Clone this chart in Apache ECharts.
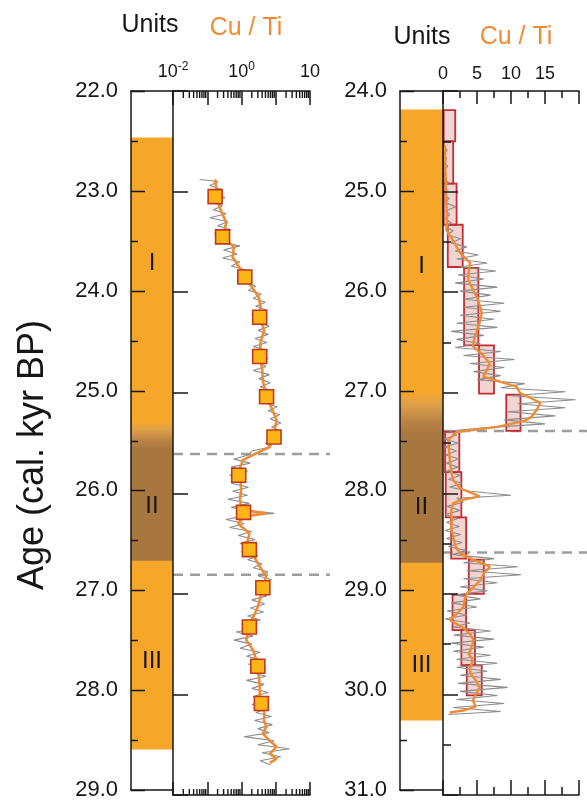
<!DOCTYPE html>
<html><head><meta charset="utf-8">
<script src="https://cdn.jsdelivr.net/npm/echarts@6/dist/echarts.min.js"></script>
<style>html,body{margin:0;padding:0;background:#fff}#c{width:587px;height:801px}</style>
</head><body><div id="c"></div>
<script>
// ---------------- DATA ----------------
// Left panel (age 22-29 cal. kyr BP, Cu/Ti on log scale)
const ageRangeLeft = [22, 29];
const ageMajorTicksLeft = [22, 23, 24, 25, 26, 27, 28, 29];
const ageMinorTicksLeft = [22.5, 23.5, 24.5, 25.5, 26.5, 27.5, 28.5];
const unitBandsLeft = [[22.47, 25.32, 'I'], [25.32, 25.58, 'fade'], [25.58, 26.71, 'II'], [26.71, 28.59, 'III']];
const unitLabelsLeft = [['I', 23.73], ['II', 26.16], ['III', 27.71]];
const dashAgesLeft = [25.61, 26.81];
const logTickLabels = [[0.01, '-2'], [1, '0'], [100, '']];
const logMinorTicks = [0.02,0.03,0.04,0.05,0.06,0.07,0.08,0.09,0.2,0.3,0.4,0.5,0.6,0.7,0.8,0.9,2,3,4,5,6,7,8,9,20,30,40,50,60,70,80,90];
const grayLeft = [[22.88,0.06],[22.90,0.21],[22.94,0.12],[22.98,0.26],[23.02,0.14],[23.06,0.33],[23.10,0.11],[23.14,0.28],[23.18,0.15],[23.22,0.36],[23.26,0.12],[23.30,0.40],[23.34,0.2],[23.38,0.5],[23.42,0.16],[23.46,0.42],[23.50,0.2],[23.54,0.9],[23.58,0.3],[23.62,0.75],[23.66,0.28],[23.70,0.9],[23.74,0.5],[23.78,1.4],[23.82,0.8],[23.86,1.9],[23.90,1.1],[23.94,2.6],[23.98,1.6],[24.02,3.8],[24.06,2.2],[24.10,5.0],[24.14,2.6],[24.18,5.6],[24.22,2.0],[24.26,5.0],[24.30,2.7],[24.34,6.5],[24.38,3.0],[24.42,6.0],[24.46,2.5],[24.50,5.5],[24.54,2.2],[24.58,5.8],[24.62,2.4],[24.66,6.0],[24.70,3.0],[24.74,5.2],[24.78,2.2],[24.82,6.5],[24.86,3.2],[24.90,7.0],[24.94,3.5],[24.98,8.0],[25.02,4.0],[25.06,9.0],[25.10,4.5],[25.14,11],[25.18,6.0],[25.22,13],[25.26,7.0],[25.30,14],[25.34,7.5],[25.38,13],[25.42,6.5],[25.46,12],[25.50,5.0],[25.54,7],[25.58,2.0],[25.62,1.6],[25.66,0.6],[25.70,1.8],[25.74,0.5],[25.78,1.5],[25.82,0.45],[25.86,1.4],[25.90,0.5],[25.94,1.6],[25.98,0.55],[26.02,1.5],[26.06,0.4],[26.10,1.7],[26.14,0.5],[26.18,2.5],[26.20,9],[26.22,1.5],[26.26,0.35],[26.30,1.2],[26.34,0.45],[26.38,2.0],[26.42,0.8],[26.46,2.5],[26.50,0.9],[26.54,2.4],[26.58,1.0],[26.62,3.0],[26.66,1.5],[26.70,4.0],[26.74,2.2],[26.78,6.0],[26.82,3.0],[26.86,7.5],[26.90,2.8],[26.94,7.0],[26.98,2.5],[27.02,5.5],[27.06,2.0],[27.10,4.8],[27.14,1.8],[27.18,4.4],[27.22,1.5],[27.26,3.6],[27.30,1.0],[27.34,2.6],[27.38,0.7],[27.42,2.2],[27.46,0.6],[27.50,2.0],[27.54,0.9],[27.58,3.5],[27.62,1.4],[27.66,4.4],[27.70,1.6],[27.74,5.0],[27.78,1.8],[27.82,5.2],[27.86,1.4],[27.90,4.6],[27.94,2.0],[27.98,6.0],[28.02,2.2],[28.06,5.4],[28.10,2.0],[28.14,6.4],[28.18,2.6],[28.22,7.5],[28.26,2.4],[28.30,8.0],[28.34,3.0],[28.38,6.5],[28.42,1.2],[28.46,9.0],[28.50,3.0],[28.54,25],[28.58,4.0],[28.62,14],[28.66,3.5],[28.70,7.0]];
const smoothLeft = [[22.88,0.17],[23.0,0.19],[23.15,0.225],[23.31,0.36],[23.45,0.28],[23.55,0.6],[23.65,0.55],[23.75,0.85],[23.85,1.25],[23.95,2.0],[24.05,3.2],[24.15,3.6],[24.25,3.4],[24.38,4.6],[24.50,3.6],[24.64,3.4],[24.76,4.0],[24.88,4.2],[25.04,5.4],[25.15,7.5],[25.27,10.5],[25.36,9.5],[25.44,8.9],[25.54,6.7],[25.61,2.4],[25.67,1.1],[25.75,0.9],[25.82,0.83],[25.90,0.95],[25.97,0.98],[26.06,0.9],[26.14,0.98],[26.17,1.2],[26.20,5.3],[26.23,1.2],[26.30,0.8],[26.40,1.7],[26.48,1.5],[26.56,1.7],[26.65,2.5],[26.73,3.4],[26.82,5.3],[26.94,4.2],[27.03,3.6],[27.13,3.0],[27.23,2.2],[27.33,1.7],[27.46,1.37],[27.56,2.2],[27.64,2.6],[27.72,3.0],[27.82,3.2],[27.93,3.4],[28.02,3.4],[28.09,3.8],[28.19,4.7],[28.26,4.5],[28.32,5.3],[28.39,4.2],[28.46,6.7],[28.52,10.5],[28.59,6.7],[28.64,10.5],[28.68,6.7]];
const markerAgesLeft = [23.05, 23.45, 23.85, 24.25, 24.64, 25.04, 25.44, 25.82, 26.19, 26.56, 26.94, 27.33, 27.72, 28.09];
const markerValuesLeft = [0.17, 0.28, 1.25, 3.4, 3.4, 5.4, 8.9, 0.83, 1.15, 1.7, 4.2, 1.7, 3.0, 3.8];

// Right panel (age 24-31 cal. kyr BP, Cu/Ti linear)
const ageRangeRight = [24, 31];
const ageMajorTicksRight = [24, 25, 26, 27, 28, 29, 30, 31];
const ageMinorTicksRight = [24.5, 25.5, 26.5, 27.5, 28.5, 29.5, 30.5];
const unitBandsRight = [[24.19, 27.02, 'I'], [27.02, 27.44, 'fade'], [27.44, 28.73, 'II'], [28.73, 30.30, 'III']];
const unitLabelsRight = [['I', 25.76], ['II', 28.17], ['III', 29.75]];
const dashAgesRight = [27.38, 28.59];
const linearTicks = [0, 5, 10, 15, 20];
const linearTickLabels = ['0', '5', '10', '15', ''];
// boxes: [age top, age bottom, low value, high value]
const boxesRight = [[24.19,24.50,0.1,1.8],[24.50,24.92,0.1,1.5],[24.92,25.33,0.1,2.0],[25.33,25.75,0.7,2.9],[25.76,26.53,3.1,5.2],[26.53,27.01,5.3,7.5],[27.02,27.38,9.3,11.4],[27.39,27.79,0.3,2.4],[27.79,28.24,0.4,2.7],[28.24,28.65,1.2,3.4],[28.66,29.00,3.8,6.0],[29.01,29.36,1.4,3.4],[29.36,29.71,2.7,4.7],[29.71,30.01,3.5,5.7]];
const grayRight = [[24.55,0.2],[24.59,0.6],[24.63,0.1],[24.67,0.5],[24.71,0.2],[24.75,0.7],[24.79,0.1],[24.83,0.5],[24.87,0.2],[24.91,0.8],[24.95,0.3],[24.99,0.6],[25.03,0.2],[25.07,0.9],[25.11,0.3],[25.15,1.9],[25.19,0.4],[25.23,1.0],[25.27,0.3],[25.31,1.2],[25.35,0.4],[25.39,1.5],[25.43,0.6],[25.47,2.6],[25.51,1.2],[25.55,3.5],[25.59,1.8],[25.63,5.2],[25.67,2.0],[25.71,6.5],[25.75,2.5],[25.79,7.8],[25.83,2.2],[25.87,6.0],[25.91,1.8],[25.95,8.0],[25.99,2.5],[26.03,7.0],[26.07,3.0],[26.11,9.0],[26.15,3.0],[26.19,8.5],[26.23,2.5],[26.27,7.5],[26.31,2.0],[26.35,8.0],[26.39,1.2],[26.43,6.0],[26.47,2.0],[26.51,5.5],[26.55,1.8],[26.59,8.5],[26.63,3.0],[26.67,10.5],[26.71,4.0],[26.75,9.0],[26.79,4.5],[26.83,8.5],[26.87,5.0],[26.91,12.0],[26.95,8.5],[26.99,18.0],[27.03,10.0],[27.07,19.5],[27.11,11.0],[27.15,18.0],[27.19,9.5],[27.23,16.5],[27.27,9.0],[27.31,15.0],[27.35,6.0],[27.38,1.0],[27.42,2.0],[27.46,0.2],[27.50,2.2],[27.54,0.3],[27.58,2.0],[27.62,0.4],[27.66,2.4],[27.70,0.5],[27.74,2.2],[27.78,0.4],[27.82,2.6],[27.86,0.8],[27.90,2.8],[27.94,1.0],[27.98,4.0],[28.02,10.0],[28.05,2.0],[28.09,3.0],[28.13,0.6],[28.17,2.5],[28.21,0.4],[28.25,2.2],[28.29,0.5],[28.33,2.4],[28.37,0.3],[28.41,2.6],[28.45,0.5],[28.49,2.8],[28.53,0.8],[28.57,3.4],[28.61,1.4],[28.65,7.5],[28.69,3.0],[28.73,11.0],[28.77,3.5],[28.81,11.5],[28.85,3.0],[28.89,8.0],[28.93,2.5],[28.97,6.5],[29.01,1.8],[29.05,5.5],[29.09,1.2],[29.13,5.0],[29.17,0.6],[29.21,3.5],[29.25,0.3],[29.29,4.0],[29.33,1.5],[29.37,7.0],[29.41,1.6],[29.45,7.5],[29.49,1.2],[29.53,6.0],[29.57,1.5],[29.61,7.0],[29.65,2.0],[29.69,8.0],[29.73,2.0],[29.77,6.5],[29.81,2.5],[29.85,8.5],[29.89,2.2],[29.93,9.5],[29.97,2.5],[30.01,8.0],[30.05,2.0],[30.09,9.0],[30.13,1.5],[30.17,8.5],[30.20,0.8]];
const smoothRight = [[24.54,0.3],[24.7,0.3],[24.9,0.4],[25.1,0.5],[25.3,0.6],[25.38,0.5],[25.5,1.6],[25.61,2.5],[25.71,4.0],[25.8,3.8],[25.88,3.7],[25.96,4.3],[26.05,5.0],[26.13,5.4],[26.21,5.7],[26.3,5.4],[26.38,5.0],[26.46,4.6],[26.54,4.4],[26.62,5.8],[26.71,6.9],[26.78,6.4],[26.84,5.9],[26.94,10.8],[27.0,11.3],[27.05,12.8],[27.1,14.3],[27.17,13.8],[27.24,13.0],[27.28,12.0],[27.34,8.0],[27.39,2.0],[27.47,0.8],[27.57,0.9],[27.67,1.0],[27.77,1.2],[27.87,1.5],[27.95,2.5],[28.03,5.4],[28.07,2.5],[28.10,1.5],[28.18,1.2],[28.27,1.3],[28.35,1.2],[28.43,1.5],[28.52,1.8],[28.6,2.5],[28.67,4.8],[28.73,6.9],[28.8,6.0],[28.87,5.4],[28.94,4.4],[29.0,3.5],[29.06,3.2],[29.13,3.0],[29.2,2.0],[29.26,1.0],[29.33,2.8],[29.4,4.0],[29.46,4.5],[29.53,4.2],[29.6,3.8],[29.66,4.4],[29.73,4.0],[29.79,4.0],[29.86,4.8],[29.93,5.4],[30.0,4.8],[30.06,4.4],[30.12,4.8],[30.16,3.0],[30.18,1.0]];

const headerUnits = 'Units';
const headerVar = 'Cu / Ti';
const yTitle = 'Age (cal. kyr BP)';

// ---------------- STYLE ----------------
const FONT = '"Liberation Sans", Arial, Helvetica, sans-serif';
const INK = '#161616';
const UNIT_ORANGE = '#F6A72A';
const UNIT_BROWN = '#A8773F';
const LINE_ORANGE = '#EE8C35';
const AXIS_LINE = { lineStyle: { color: INK, width: 1.5 } };
const AXIS_LAYER = 1;
const TICK_LAYER = 2;

function bandFill(k) {
  if (k === 'fade') return new echarts.graphic.LinearGradient(0, 0, 0, 1, [
    { offset: 0, color: UNIT_ORANGE }, { offset: 0.3, color: '#DDA04A' }, { offset: 0.7, color: '#B98246' }, { offset: 1, color: UNIT_BROWN }]);
  return k === 'II' ? UNIT_BROWN : UNIT_ORANGE;
}
function unitsRenderer(bands, labels) {
  return function (params, api) {
    if (params.dataIndex !== 0) return null;
    const children = [];
    bands.forEach(b => {
      const p0 = api.coord([0, b[0]]), p1 = api.coord([1, b[1]]);
      children.push({ type: 'rect', z2: 1, shape: { x: p0[0], y: p0[1] - 0.5, width: p1[0] - p0[0], height: p1[1] - p0[1] + 1 }, style: { fill: bandFill(b[2]) } });
    });
    labels.forEach(l => {
      const p = api.coord([0.5, l[1]]);
      children.push({ type: 'text', z2: 30, x: p[0], y: p[1], style: { text: l[0], font: '24px ' + FONT, fill: INK, align: 'center', verticalAlign: 'middle' } });
    });
    return { type: 'group', children: children };
  };
}
function ticksRenderer(majors, minors) {
  return function (params, api) {
    if (params.dataIndex !== 0) return null;
    const cs = params.coordSys;
    const children = [];
    majors.forEach(a => {
      const y = Math.round(api.coord([0, a])[1]) + 0.5;
      children.push({ type: 'rect', shape: { x: cs.x, y: y - 0.75, width: 14, height: 1.5 }, style: { fill: INK } });
    });
    minors.forEach(a => {
      const y = Math.round(api.coord([0, a])[1]) + 0.5;
      children.push({ type: 'rect', shape: { x: cs.x, y: y - 0.75, width: 7, height: 1.5 }, style: { fill: INK } });
    });
    return { type: 'group', children: children };
  };
}
function dashRenderer(extra) {
  return function (params, api) {
    const cs = params.coordSys;
    const y = api.coord([api.value(0), api.value(1)])[1];
    return { type: 'line', shape: { x1: cs.x, y1: y, x2: cs.x + cs.width + extra, y2: y }, style: { stroke: '#9d9d9d', lineWidth: 2.5, lineDash: [10, 7] } };
  };
}

function unitsX(grid, pos) {
  return { gridIndex: grid, type: 'value', min: 0, max: 1, position: pos, zlevel: AXIS_LAYER, axisLine: { show: true, ...AXIS_LINE }, axisTick: { show: false }, axisLabel: { show: false }, splitLine: { show: false } };
}
function unitsY(grid, range) {
  return { gridIndex: grid, type: 'value', inverse: true, min: range[0], max: range[1], interval: 1, zlevel: AXIS_LAYER,
    axisLine: { show: true, ...AXIS_LINE }, axisTick: { show: false }, minorTick: { show: false },
    axisLabel: { formatter: v => v.toFixed(1), fontSize: 22, color: INK, margin: 13, fontFamily: FONT },
    splitLine: { show: false }, minorSplitLine: { show: false } };
}
function dataY(grid, range, minor) {
  return { gridIndex: grid, type: 'value', inverse: true, min: range[0], max: range[1], interval: 1, zlevel: AXIS_LAYER,
    axisLine: { show: true, ...AXIS_LINE }, axisTick: { show: true, inside: true, length: 15, ...AXIS_LINE },
    minorTick: { show: minor, splitNumber: 2, length: 8, ...AXIS_LINE },
    axisLabel: { show: false }, splitLine: { show: false }, minorSplitLine: { show: false } };
}
function logLabel(v) {
  for (const t of logTickLabels) {
    if (Math.abs(Math.log10(v) - Math.log10(t[0])) < 1e-6) return t[1] === '' ? '{b|10}' : '{b|10}{s|' + t[1] + '}';
  }
  return '';
}
function logX(grid, pos, showLabel) {
  return { gridIndex: grid, type: 'log', logBase: 10, min: 0.01, max: 100, position: pos, zlevel: AXIS_LAYER,
    axisLine: { show: true, ...AXIS_LINE }, axisTick: { show: true, inside: true, length: pos === 'top' ? 14 : 13, ...AXIS_LINE },
    axisLabel: { show: showLabel, formatter: logLabel, margin: 8,
      rich: { b: { fontSize: 18, fontFamily: FONT, color: INK, lineHeight: 22 }, s: { fontSize: 12, fontFamily: FONT, color: INK, verticalAlign: 'top', lineHeight: 12 } } },
    splitLine: { show: false }, minorTick: { show: false } };
}
function linX(grid, pos, showLabel) {
  return { gridIndex: grid, type: 'value', min: linearTicks[0], max: linearTicks[linearTicks.length - 1], interval: linearTicks[1] - linearTicks[0], position: pos, zlevel: AXIS_LAYER,
    axisLine: { show: true, ...AXIS_LINE }, axisTick: { show: true, inside: true, length: pos === 'top' ? 13 : 15, ...AXIS_LINE },
    minorTick: { show: true, splitNumber: 2, length: pos === 'top' ? 7 : 8, ...AXIS_LINE },
    axisLabel: { show: showLabel, fontSize: 18, color: INK, fontFamily: FONT, margin: 8,
      formatter: v => { const i = linearTicks.indexOf(v); return i >= 0 ? linearTickLabels[i] : ''; } },
    splitLine: { show: false }, minorSplitLine: { show: false } };
}

const chart = echarts.init(document.getElementById('c'), null, { renderer: 'canvas' });
chart.setOption({
  animation: false,
  backgroundColor: '#fff',
  grid: [
    { left: 131, top: 91, width: 42, height: 704 },
    { left: 173, top: 91, width: 137, height: 704 },
    { left: 400, top: 91, width: 43, height: 704 },
    { left: 443, top: 91, width: 136, height: 704 }
  ],
  xAxis: [
    unitsX(0, 'top'), unitsX(0, 'bottom'),
    logX(1, 'top', true), logX(1, 'bottom', false),
    unitsX(2, 'top'), unitsX(2, 'bottom'),
    linX(3, 'top', true), linX(3, 'bottom', false)
  ],
  yAxis: [
    unitsY(0, ageRangeLeft), dataY(1, ageRangeLeft, false),
    unitsY(2, ageRangeRight), dataY(3, ageRangeRight, true)
  ],
  graphic: [
    { type: 'text', x: 150, y: 25, style: { text: headerUnits, font: '25px ' + FONT, fill: INK, align: 'center', verticalAlign: 'middle' } },
    { type: 'text', x: 246, y: 28, style: { text: headerVar, font: '25px ' + FONT, fill: LINE_ORANGE, align: 'center', verticalAlign: 'middle' } },
    { type: 'text', x: 422, y: 37, style: { text: headerUnits, font: '25px ' + FONT, fill: INK, align: 'center', verticalAlign: 'middle' } },
    { type: 'text', x: 516, y: 37, style: { text: headerVar, font: '25px ' + FONT, fill: LINE_ORANGE, align: 'center', verticalAlign: 'middle' } },
    { type: 'text', x: 33, y: 455, rotation: Math.PI / 2, style: { text: yTitle, font: '36px ' + FONT, fill: INK, align: 'center', verticalAlign: 'middle' } }
  ],
  series: [
    // left units column
    { type: 'custom', xAxisIndex: 0, yAxisIndex: 0, data: [[0.5, ageRangeLeft[0]]],
      renderItem: unitsRenderer(unitBandsLeft, unitLabelsLeft), z: 1 },
    { type: 'custom', xAxisIndex: 0, yAxisIndex: 0, data: [[0, ageRangeLeft[0]]], zlevel: TICK_LAYER,
      renderItem: ticksRenderer(ageMajorTicksLeft, ageMinorTicksLeft), z: 10 },
    // left data
    { type: 'custom', xAxisIndex: 2, yAxisIndex: 1, data: logMinorTicks.map(v => [v, ageRangeLeft[0]]),
      renderItem: (params, api) => {
        const cs = params.coordSys; const x = api.coord([api.value(0), ageRangeLeft[0]])[0];
        return { type: 'group', children: [
          { type: 'line', shape: { x1: x, y1: cs.y, x2: x, y2: cs.y + 7 }, style: { stroke: INK, lineWidth: 1.4 } },
          { type: 'line', shape: { x1: x, y1: cs.y + cs.height, x2: x, y2: cs.y + cs.height - 6 }, style: { stroke: INK, lineWidth: 1.4 } }
        ] };
      }, z: 5 },
    { type: 'custom', xAxisIndex: 2, yAxisIndex: 1, data: dashAgesLeft.map(a => [1, a]), renderItem: dashRenderer(20), z: 2 },
    { type: 'line', xAxisIndex: 2, yAxisIndex: 1, data: grayLeft.map(d => [d[1], d[0]]), showSymbol: false, lineStyle: { color: '#8c8c8c', width: 1.1 }, z: 3 },
    { type: 'line', xAxisIndex: 2, yAxisIndex: 1, data: smoothLeft.map(d => [d[1], d[0]]), showSymbol: false, lineStyle: { color: LINE_ORANGE, width: 2.6 }, z: 4 },
    { type: 'scatter', xAxisIndex: 2, yAxisIndex: 1, data: markerAgesLeft.map((a, i) => [markerValuesLeft[i], a]), symbol: 'rect', symbolSize: 14,
      itemStyle: { color: '#FDB515', borderColor: '#C0391E', borderWidth: 1.6, opacity: 1 }, z: 6 },
    // right units column
    { type: 'custom', xAxisIndex: 4, yAxisIndex: 2, data: [[0.5, ageRangeRight[0]]],
      renderItem: unitsRenderer(unitBandsRight, unitLabelsRight), z: 1 },
    { type: 'custom', xAxisIndex: 4, yAxisIndex: 2, data: [[0, ageRangeRight[0]]], zlevel: TICK_LAYER,
      renderItem: ticksRenderer(ageMajorTicksRight, ageMinorTicksRight), z: 10 },
    // right data
    { type: 'custom', xAxisIndex: 6, yAxisIndex: 3, data: dashAgesRight.map(a => [1, a]), renderItem: dashRenderer(10), z: 2 },
    { type: 'custom', xAxisIndex: 6, yAxisIndex: 3, data: boxesRight,
      renderItem: (params, api) => {
        const p0 = api.coord([api.value(2), api.value(0)]), p1 = api.coord([api.value(3), api.value(1)]);
        return { type: 'rect', shape: { x: p0[0], y: p0[1], width: p1[0] - p0[0], height: p1[1] - p0[1] },
          style: { fill: 'rgba(226,160,156,0.45)', stroke: '#C42D32', lineWidth: 1.8 } };
      }, z: 3 },
    { type: 'line', xAxisIndex: 6, yAxisIndex: 3, data: grayRight.map(d => [d[1], d[0]]), showSymbol: false, lineStyle: { color: '#8c8c8c', width: 1.1 }, z: 4 },
    { type: 'line', xAxisIndex: 6, yAxisIndex: 3, data: smoothRight.map(d => [d[1], d[0]]), showSymbol: false, lineStyle: { color: LINE_ORANGE, width: 2.4 }, z: 5 }
  ]
});
</script></body></html>
